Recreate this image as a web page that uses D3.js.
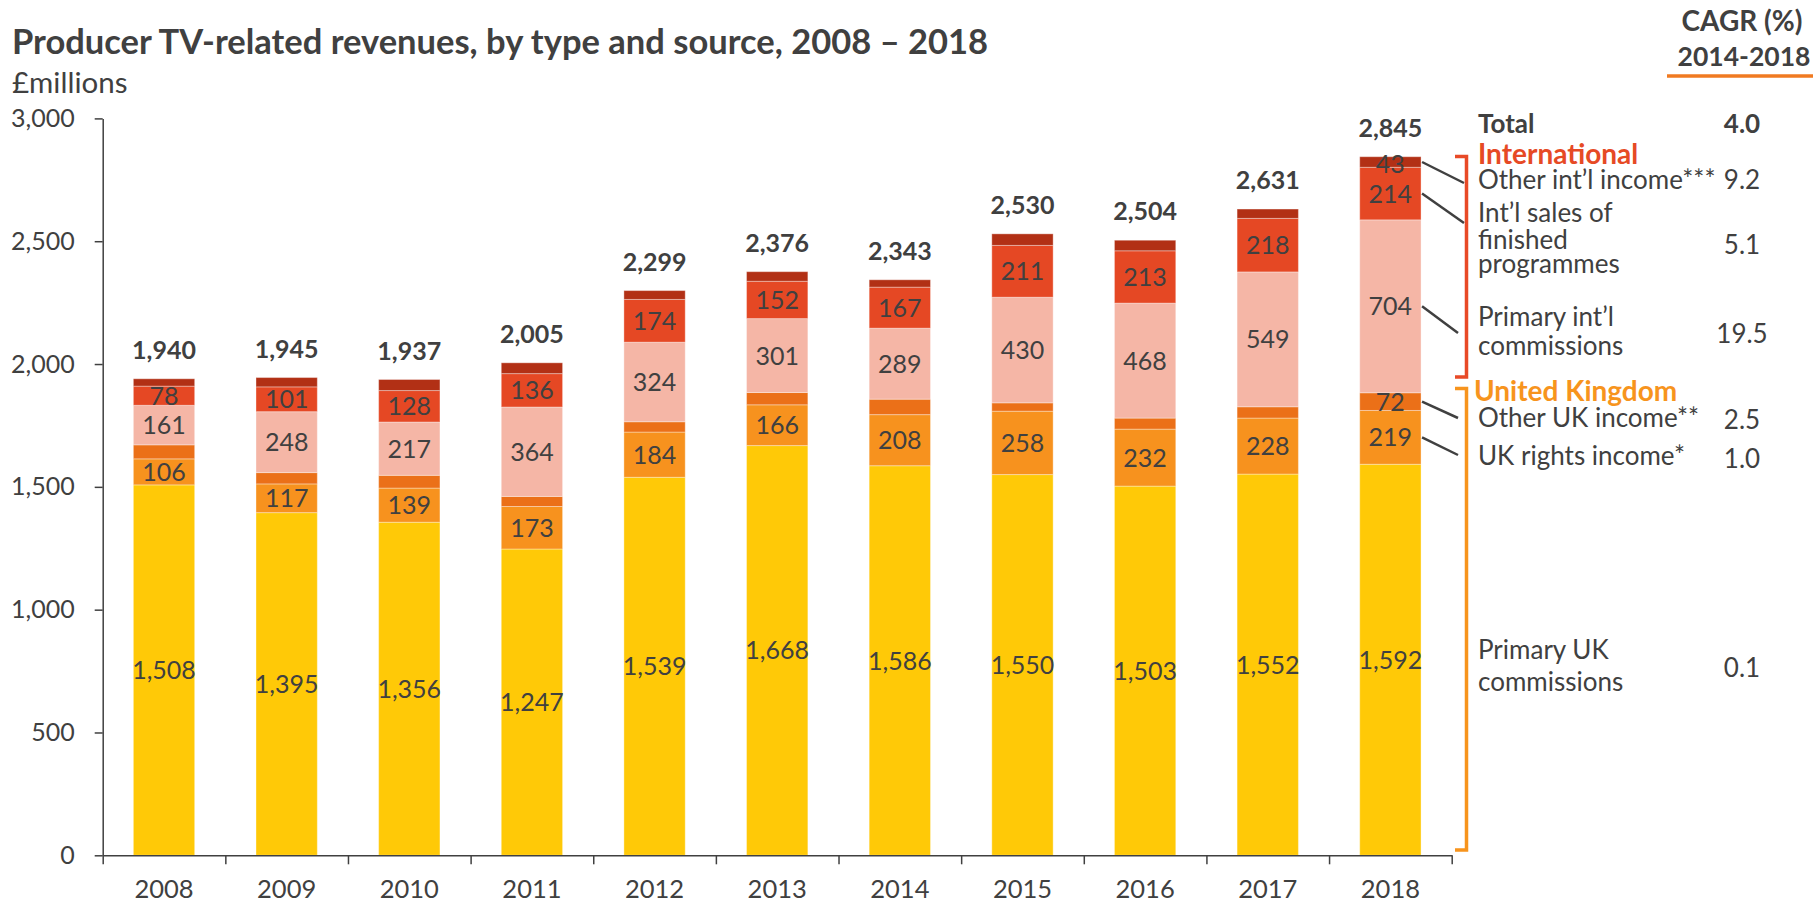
<!DOCTYPE html>
<html>
<head>
<meta charset="utf-8">
<script src="https://cdn.jsdelivr.net/npm/d3@7"></script>
<style>
  html, body { margin: 0; padding: 0; background: #fff; }
  svg { display: block; }
  text { font-family: Lato, "Open Sans", sans-serif; fill: #404040; }
</style>
</head>
<body>
<svg id="chart" width="1813" height="905"></svg>
<script>
// ---- data ----
const years = ["2008","2009","2010","2011","2012","2013","2014","2015","2016","2017","2018"];
const primaryUK   = [1508,1395,1356,1247,1539,1668,1586,1550,1503,1552,1592];
const ukRights    = [106,117,139,173,184,166,208,258,232,228,219];
const otherUK     = [57,46,52,41,42,50,63,34,45,46,72];
const primaryIntl = [161,248,217,364,324,301,289,430,468,549,704];
const intlSales   = [78,101,128,136,174,152,167,211,213,218,214];
const otherIntl   = [30,38,45,44,36,39,30,47,43,38,43];
const totals      = [1940,1945,1937,2005,2299,2376,2343,2530,2504,2631,2845];
const yTicks      = [0,500,1000,1500,2000,2500,3000];
const seriesNames = ["Primary UK commissions","UK rights income*","Other UK income**","Primary int’l commissions","Int’l sales of finished programmes","Other int’l income***"];
const cagr        = ["4.0","9.2","5.1","19.5","2.5","1.0","0.1"];

const colors = ["#FFC907","#F7921E","#EB7018","#F5B6A6","#E54824","#B23015"];
const seriesData = [primaryUK, ukRights, otherUK, primaryIntl, intlSales, otherIntl];
const keys = ["s0","s1","s2","s3","s4","s5"];
const table = years.map((y,i) => {
  const row = {year: y, total: totals[i]};
  seriesData.forEach((s,k) => row[keys[k]] = s[i]);
  return row;
});

const svg = d3.select("#chart");
const TEXT = "#404040";

const x = d3.scaleBand().domain(years).range([102.7, 1451.7]).paddingInner(0.5).paddingOuter(0.25);
const y = d3.scaleLinear().domain([0, 3000]).range([855.3, 118.4]);

const stack = d3.stack().keys(keys)(table);

// bars
const g = svg.append("g");
g.selectAll("g.series").data(stack).join("g")
  .attr("class","series")
  .attr("fill", (d,i) => colors[i])
  .selectAll("rect").data(d => d).join("rect")
  .attr("x", d => x(d.data.year))
  .attr("width", x.bandwidth())
  .attr("y", d => y(d[1]))
  .attr("height", d => y(d[0]) - y(d[1]))
  .attr("stroke", "rgba(255,255,255,0.35)")
  .attr("stroke-width", 1);

// segment labels
const last = years[years.length-1];
stack.forEach((layer, k) => {
  layer.forEach(d => {
    const always = (k === 0 || k === 1 || k === 3 || k === 4);
    if (!always && d.data.year !== last) return;
    svg.append("text")
      .attr("x", x(d.data.year) + x.bandwidth()/2)
      .attr("y", (y(d[0]) + y(d[1]))/2 + (k === 5 ? 2 : 0))
      .attr("dy", "0.36em")
      .attr("text-anchor","middle")
      .style("font-size","25px")
      .text(d3.format(",")(d.data[keys[k]]));
  });
});

// totals
svg.append("g").selectAll("text").data(table).join("text")
  .attr("x", d => x(d.year) + x.bandwidth()/2)
  .attr("y", d => y(d3.sum(keys, k => d[k])) - 20)
  .attr("text-anchor","middle")
  .style("font-size","25px").style("font-weight","700")
  .text(d => d3.format(",")(d.total));

// y axis
const yAxis = svg.append("g").attr("transform","translate(102.7,0)")
  .call(d3.axisLeft(y).tickValues(yTicks).tickFormat(d3.format(",")).tickSize(8).tickSizeOuter(0).tickPadding(20));
yAxis.select(".domain").attr("stroke", TEXT).attr("stroke-width", 1.5);
yAxis.selectAll(".tick line").attr("stroke", TEXT).attr("stroke-width", 1.5);
yAxis.selectAll(".tick text").style("font-size","25px").attr("fill", TEXT).style("font-family","Lato");

// x axis: boundary ticks
const xb = d3.scaleLinear().domain([0, years.length]).range([102.7, 1451.7]);
const xAxis = svg.append("g").attr("transform","translate(0,855.3)")
  .call(d3.axisBottom(xb).tickValues(d3.range(years.length+1)).tickFormat("").tickSize(9).tickSizeOuter(0));
xAxis.select(".domain").attr("stroke", TEXT).attr("stroke-width", 1.5);
xAxis.selectAll(".tick line").attr("stroke", TEXT).attr("stroke-width", 1.5);
// x labels
const xLab = svg.append("g").attr("transform","translate(0,855.3)")
  .call(d3.axisBottom(x).tickSize(0).tickPadding(25));
xLab.select(".domain").remove();
xLab.selectAll(".tick text").style("font-size","25.5px").attr("fill", TEXT).style("font-family","Lato");

// title
svg.append("text").attr("x", 12).attr("y", 54)
  .style("font-size","34.5px").style("font-weight","700")
  .text("Producer TV-related revenues, by type and source, 2008 – 2018");
svg.append("text").attr("x", 12).attr("y", 93)
  .style("font-size","29.5px")
  .text("£millions");

// CAGR header
svg.append("text").attr("x", 1742).attr("y", 31).attr("text-anchor","middle")
  .style("font-size","28px").style("font-weight","700").text("CAGR (%)");
svg.append("text").attr("x", 1744).attr("y", 66).attr("text-anchor","middle")
  .style("font-size","26.5px").style("font-weight","700").text("2014-2018");
svg.append("line").attr("x1",1667).attr("x2",1813).attr("y1",76).attr("y2",76)
  .attr("stroke","#F07A21").attr("stroke-width",3.5);

// legend texts
const LX = 1478, VX = 1742;
function lt(txt, yy, opts={}) {
  const t = svg.append("text").attr("x", opts.x || LX).attr("y", yy)
    .style("font-size", opts.size || "26px").text(txt);
  if (opts.bold) t.style("font-weight","700");
  if (opts.fill) t.style("fill", opts.fill);
  if (opts.anchor) t.attr("text-anchor", opts.anchor);
  return t;
}
lt("Total", 133, {bold:true});
lt(cagr[0], 133, {bold:true, x:VX, anchor:"middle"});
lt("International", 164, {bold:true, fill:"#E64A25", size:"28px"});
lt("Other int’l income***", 189);
lt(cagr[1], 189, {x:VX, anchor:"middle"});
lt("Int’l sales of", 222);
lt("finished", 249);
lt("programmes", 273);
lt(cagr[2], 254, {x:VX, anchor:"middle"});
lt("Primary int’l", 326);
lt("commissions", 355);
lt(cagr[3], 343, {x:VX, anchor:"middle"});
lt("United Kingdom", 401, {bold:true, fill:"#F7941D", size:"28px", x:1474});
lt("Other UK income**", 427);
lt(cagr[4], 429, {x:VX, anchor:"middle"});
lt("UK rights income*", 465);
lt(cagr[5], 468, {x:VX, anchor:"middle"});
lt("Primary UK", 659);
lt("commissions", 691);
lt(cagr[6], 677, {x:VX, anchor:"middle"});

// brackets
svg.append("path").attr("d","M1455,156.5 H1466.5 V377 H1455")
  .attr("fill","none").attr("stroke","#E84A27").attr("stroke-width",3.5);
svg.append("path").attr("d","M1455,388.5 H1466.5 V850 H1455")
  .attr("fill","none").attr("stroke","#F7941D").attr("stroke-width",3.5);

// leader lines from 2018 segments
const lastStack = stack.map(l => l[years.length-1]);
const leaderEnds = [
  {k:5, x:1464, y:183},
  {k:4, x:1464, y:223},
  {k:3, x:1458, y:333},
  {k:2, x:1458, y:418},
  {k:1, x:1458, y:455}
];
const barRight = x(last) + x.bandwidth();
leaderEnds.forEach(e => {
  const d = lastStack[e.k];
  const yy = (y(d[0]) + y(d[1]))/2;
  svg.append("line").attr("x1", barRight + 1).attr("y1", yy).attr("x2", e.x).attr("y2", e.y)
    .attr("stroke", TEXT).attr("stroke-width", 2.5);
});
</script>
</body>
</html>
